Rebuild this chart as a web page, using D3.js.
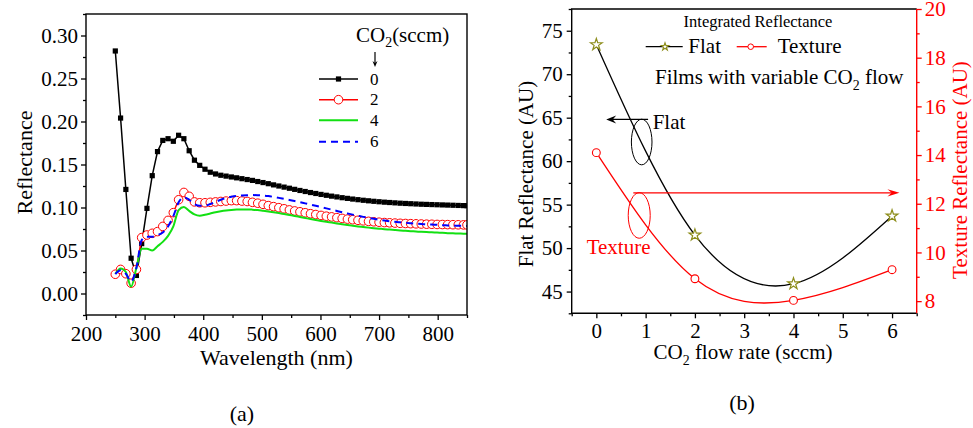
<!DOCTYPE html>
<html>
<head>
<meta charset="utf-8">
<script src="https://cdn.jsdelivr.net/npm/d3@7"></script>
<style>
  body { margin: 0; background: #fff; }
  svg { display: block; }
  svg text { font-family: "Liberation Serif", "Times New Roman", serif !important; }
</style>
</head>
<body>
<svg id="fig" width="973" height="428"></svg>
<script>
// ---------- Panel (a): reflectance spectra ----------
const wavelengths = [250,259,268,277,286,295,304,313,322,331,340,349,358,367,376,385,394,403,412,421,
  430,439,448,457,466,475,484,493,502,511,520,529,538,547,556,565,574,583,592,601,610,619,628,637,646,
  655,664,673,682,691,700,709,718,727,736,745,754,763,772,781,790,799,808,817,826,835,844,850];

const refl0 = [.282,.204,.121,.041,.021,.058,.099,.137,.165,.178,.180,.177,.184,.180,.166,.155,.149,.1445,.141,.139,
  .1375,.1365,.1355,.1345,.1335,.1325,.1315,.1302,.1290,.1277,.1263,.1250,.1237,.1224,.1211,.1198,.1186,.1174,.1163,.1152,.1142,.1132,.1123,.1114,.1106,
  .1098,.1091,.1084,.1078,.1072,.1067,.1062,.1058,.1054,.1050,.1047,.1044,.1041,.1038,.1036,.1034,.1032,.1030,.1028,.1026,.1024,.1022,.1021];

const refl2 = [.0224,.028,.023,.012,.028,.065,.068,.070,.072,.078,.085,.094,.109,.1175,.113,.1065,.1055,.1055,.106,.1065,
  .107,.1075,.108,.108,.1075,.107,.106,.105,.1037,.1022,.101,.0998,.0985,.0972,.096,.095,.0939,.0928,.0918,.0908,.0899,.0891,.0882,.0873,.0865,
  .0858,.0851,.0845,.0839,.0834,.0829,.0825,.0822,.0819,.0816,.0814,.0812,.081,.0808,.0806,.0805,.0803,.0802,.0801,.08,.0799,.0798,.0798];

const refl4 = [.023,.029,.025,.008,.030,.052,.052,.050,.055,.060,.067,.078,.097,.1005,.096,.092,.0905,.0915,.093,.0945,
  .0957,.0966,.0972,.0976,.0978,.0978,.0975,.097,.0962,.0954,.0945,.0935,.0924,.0913,.0902,.089,.0878,.0866,.0855,.0844,.0834,.0825,.0815,.0805,.0796,
  .0788,.078,.0773,.0766,.076,.0754,.0748,.0743,.0738,.0733,.0729,.0725,.0721,.0717,.0714,.0711,.0708,.0705,.0702,.07,.0698,.0696,.0695];

const refl6 = [.0225,.027,.023,.014,.030,.062,.066,.066,.068,.071,.078,.090,.106,.112,.109,.104,.102,.102,.104,.1065,
  .109,.111,.1125,.1135,.114,.1143,.1144,.1143,.114,.1133,.1123,.1112,.11,.1088,.1075,.1062,.1048,.1034,.102,.1005,.099,.0975,.096,.0945,.0931,
  .0917,.0904,.0891,.0879,.0868,.0858,.0849,.0841,.0834,.0828,.0822,.0817,.0812,.0808,.0804,.0801,.0798,.0795,.0792,.079,.0788,.0786,.0785];

const co2Labels = ["0", "2", "4", "6"];
const xTicksA = [200,300,400,500,600,700,800];
const xMinorA = [250,350,450,550,650,750,850];
const yTicksA = [0,0.05,0.10,0.15,0.20,0.25,0.30];
const yMinorA = [-0.025,0.025,0.075,0.125,0.175,0.225,0.275,0.325];

// ---------- Panel (b): integrated reflectance ----------
const flowRates = [0, 2, 4, 6];
const flatRefl = [73.4, 51.5, 45.9, 53.7];
const textureRefl = [14.1, 8.92, 8.03, 9.29];
const xTicksB = [0,1,2,3,4,5,6];
const xMinorB = [-0.5,0.5,1.5,2.5,3.5,4.5,5.5,6.5];
const yTicksBL = [45,50,55,60,65,70,75];
const yMinorBL = [42.5,47.5,52.5,57.5,62.5,67.5,72.5,77.5];
const yTicksBR = [8,10,12,14,16,18,20];
const yMinorBR = [9,11,13,15,17,19];

const RED = "#ff0000", GREEN = "#12e012", BLUE = "#0000ff", OLIVE = "#8e8e1c";
const svg = d3.select("#fig");

// text with a subscript segment: parts = [[text, isSub], ...]
function richText(sel, parts, size) {
  let sub = false;
  parts.forEach(([t, s]) => {
    const ts = sel.append("tspan").text(t);
    if (s && !sub) ts.attr("dy", size * 0.28).attr("font-size", size * 0.66);
    else if (!s && sub) ts.attr("dy", -size * 0.28);
    sub = s;
  });
  return sel;
}

function arrow(g, x1, y1, x2, y2, color, len, half) {
  const dx = Math.sign(x2 - x1), dy = Math.sign(y2 - y1);
  g.append("line").attr("x1", x1).attr("y1", y1).attr("x2", x2 - dx * len * 0.6).attr("y2", y2 - dy * len * 0.6)
    .attr("stroke", color).attr("stroke-width", 1.2);
  const bx = x2 - dx * len, by = y2 - dy * len;
  const nx = x2 - dx * len * 0.65, ny = y2 - dy * len * 0.65;
  const px = dy !== 0 ? half : 0, py = dx !== 0 ? half : 0;
  g.append("path")
    .attr("d", `M${x2},${y2}L${bx + px},${by + py}L${nx},${ny}L${bx - px},${by - py}Z`)
    .attr("fill", color);
}

function styleAxis(g, size, color) {
  g.select(".domain").remove();
  g.attr("font-family", null).attr("font-size", null);
  g.selectAll("line").attr("stroke", color).attr("stroke-width", 1.3);
  g.selectAll("text").attr("font-size", size).attr("fill", color);
}

// ===== Panel (a) =====
(function () {
  const L = 86, T = 14, R = 467, B = 315;
  const x = d3.scaleLinear().domain([200, 850]).range([L, R]);
  const y = d3.scaleLinear().domain([-0.025, 0.325]).range([B, T]);
  const g = svg.append("g");

  g.append("clipPath").attr("id", "clipA").append("rect")
    .attr("x", L).attr("y", T).attr("width", R - L).attr("height", B - T);

  const ax = g.append("g").attr("transform", `translate(0,${B})`)
    .call(d3.axisBottom(x).tickValues(xTicksA).tickSize(5).tickPadding(6).tickFormat(d3.format("d")));
  styleAxis(ax, 21, "#000");
  const axm = g.append("g").attr("transform", `translate(0,${B})`)
    .call(d3.axisBottom(x).tickValues(xMinorA).tickSize(3).tickFormat(""));
  styleAxis(axm, 21, "#000");
  const ay = g.append("g").attr("transform", `translate(${L},0)`)
    .call(d3.axisLeft(y).tickValues(yTicksA).tickSize(5).tickPadding(3).tickFormat(d3.format(".2f")));
  styleAxis(ay, 21, "#000");
  const aym = g.append("g").attr("transform", `translate(${L},0)`)
    .call(d3.axisLeft(y).tickValues(yMinorA).tickSize(3).tickFormat(""));
  styleAxis(aym, 21, "#000");

  const plot = g.append("g").attr("clip-path", "url(#clipA)");
  const line = (vals, curve) => d3.line().x((d, i) => x(wavelengths[i])).y(d => y(d)).curve(curve)(vals);

  // 0 sccm
  plot.append("path").attr("d", line(refl0, d3.curveLinear)).attr("fill", "none")
    .attr("stroke", "#000").attr("stroke-width", 1.5);
  plot.selectAll(".sq").data(refl0).join("rect")
    .attr("x", (d, i) => x(wavelengths[i]) - 2.6).attr("y", d => y(d) - 2.6)
    .attr("width", 5.2).attr("height", 5.2).attr("fill", "#000");
  // 2 sccm
  plot.append("path").attr("d", line(refl2, d3.curveLinear)).attr("fill", "none")
    .attr("stroke", RED).attr("stroke-width", 1.5);
  plot.selectAll(".ci").data(refl2).join("circle")
    .attr("cx", (d, i) => x(wavelengths[i])).attr("cy", d => y(d)).attr("r", 4.3)
    .attr("fill", "#fff").attr("stroke", RED).attr("stroke-width", 1);
  // 4 sccm
  plot.append("path").attr("d", line(refl4, d3.curveMonotoneX)).attr("fill", "none")
    .attr("stroke", GREEN).attr("stroke-width", 2);
  // 6 sccm
  plot.append("path").attr("d", line(refl6, d3.curveMonotoneX)).attr("fill", "none")
    .attr("stroke", BLUE).attr("stroke-width", 2).attr("stroke-dasharray", "7,5");

  // frame
  g.append("rect").attr("x", L).attr("y", T).attr("width", R - L).attr("height", B - T)
    .attr("fill", "none").attr("stroke", "#000").attr("stroke-width", 1.4);

  // legend
  const lg = g.append("g");
  richText(lg.append("text").attr("x", 356).attr("y", 41.5).attr("font-size", 21),
    [["CO", false], ["2", true], ["(sccm)", false]], 21);
  arrow(lg, 375, 52, 375, 67, "#000", 6, 2.5);
  const rows = [79, 99.7, 120.3, 141.7];
  const lx1 = 319, lx2 = 358, lm = 338.5;
  lg.append("line").attr("x1", lx1).attr("x2", lx2).attr("y1", rows[0]).attr("y2", rows[0]).attr("stroke", "#000").attr("stroke-width", 1.5);
  lg.append("rect").attr("x", lm - 2.6).attr("y", rows[0] - 2.6).attr("width", 5.2).attr("height", 5.2);
  lg.append("line").attr("x1", lx1).attr("x2", lx2).attr("y1", rows[1]).attr("y2", rows[1]).attr("stroke", RED).attr("stroke-width", 1.5);
  lg.append("circle").attr("cx", lm).attr("cy", rows[1]).attr("r", 4.3).attr("fill", "#fff").attr("stroke", RED);
  lg.append("line").attr("x1", lx1).attr("x2", lx2).attr("y1", rows[2]).attr("y2", rows[2]).attr("stroke", GREEN).attr("stroke-width", 2);
  lg.append("line").attr("x1", lx1).attr("x2", lx2).attr("y1", rows[3]).attr("y2", rows[3]).attr("stroke", BLUE).attr("stroke-width", 2).attr("stroke-dasharray", "7,5");
  co2Labels.forEach((t, i) => lg.append("text").attr("x", 370).attr("y", rows[i] + 5.5).attr("font-size", 17).text(t));

  // titles
  g.append("text").attr("x", (L + R) / 2).attr("y", 365).attr("text-anchor", "middle").attr("font-size", 22).text("Wavelength (nm)");
  g.append("text").attr("transform", `translate(32,${(T + B) / 2 - 2}) rotate(-90)`).attr("text-anchor", "middle").attr("font-size", 22).text("Reflectance");
  g.append("text").attr("x", 242).attr("y", 421).attr("text-anchor", "middle").attr("font-size", 22).text("(a)");
})();

// ===== Panel (b) =====
(function () {
  const L = 571.7, T = 9, R = 916.7, B = 313.3;
  const x = d3.scaleLinear().domain([-0.5, 6.5]).range([L, R]);
  const yl = d3.scaleLinear().domain([42.5, 77.5]).range([B, T]);
  const yr = d3.scaleLinear().domain([7.5, 20]).range([B, T]);
  const g = svg.append("g");

  // frame (left, top, bottom black; right axis drawn in red)
  g.append("path").attr("d", `M${R},${T}H${L}V${B}H${R}`).attr("fill", "none").attr("stroke", "#000").attr("stroke-width", 1.4);
  g.append("line").attr("x1", R).attr("x2", R).attr("y1", T).attr("y2", B).attr("stroke", RED).attr("stroke-width", 1.4);

  const ax = g.append("g").attr("transform", `translate(0,${B})`)
    .call(d3.axisBottom(x).tickValues(xTicksB).tickSize(5).tickPadding(5).tickFormat(d3.format("d")));
  styleAxis(ax, 21, "#000");
  const axm = g.append("g").attr("transform", `translate(0,${B})`)
    .call(d3.axisBottom(x).tickValues(xMinorB).tickSize(3).tickFormat(""));
  styleAxis(axm, 21, "#000");
  const ayl = g.append("g").attr("transform", `translate(${L},0)`)
    .call(d3.axisLeft(yl).tickValues(yTicksBL).tickSize(5).tickPadding(4).tickFormat(d3.format("d")));
  styleAxis(ayl, 21, "#000");
  const aylm = g.append("g").attr("transform", `translate(${L},0)`)
    .call(d3.axisLeft(yl).tickValues(yMinorBL).tickSize(3).tickFormat(""));
  styleAxis(aylm, 21, "#000");
  const ayr = g.append("g").attr("transform", `translate(${R},0)`)
    .call(d3.axisRight(yr).tickValues(yTicksBR).tickSize(5).tickPadding(3).tickFormat(d3.format("d")));
  styleAxis(ayr, 21, RED);
  const ayrm = g.append("g").attr("transform", `translate(${R},0)`)
    .call(d3.axisRight(yr).tickValues(yMinorBR).tickSize(3).tickFormat(""));
  styleAxis(ayrm, 21, RED);

  // fitted curves
  const flatLine = d3.line().x((d, i) => x(flowRates[i])).y(d => yl(d)).curve(d3.curveNatural);
  const texLine = d3.line().x((d, i) => x(flowRates[i])).y(d => yr(d)).curve(d3.curveNatural);
  g.append("path").attr("d", flatLine(flatRefl)).attr("fill", "none").attr("stroke", "#000").attr("stroke-width", 1.3);
  g.append("path").attr("d", texLine(textureRefl)).attr("fill", "none").attr("stroke", RED).attr("stroke-width", 1.3);

  const star = d3.symbol().type(d3.symbolStar);
  g.selectAll(".st").data(flatRefl).join("path")
    .attr("transform", (d, i) => `translate(${x(flowRates[i])},${yl(d)})`)
    .attr("d", star.size(42)).attr("fill", "#fff").attr("stroke", OLIVE).attr("stroke-width", 1.2);
  g.selectAll(".tc").data(textureRefl).join("circle")
    .attr("cx", (d, i) => x(flowRates[i])).attr("cy", d => yr(d)).attr("r", 3.9)
    .attr("fill", "#fff").attr("stroke", RED).attr("stroke-width", 1.1);

  // legend
  g.append("text").attr("x", 758).attr("y", 27).attr("text-anchor", "middle").attr("font-size", 16.5).text("Integrated Reflectance");
  g.append("line").attr("x1", 645.7).attr("x2", 682.7).attr("y1", 46.7).attr("y2", 46.7).attr("stroke", "#000").attr("stroke-width", 1.3);
  g.append("path").attr("transform", "translate(665,46.7)").attr("d", d3.symbol().type(d3.symbolStar).size(18)())
    .attr("fill", "#fff").attr("stroke", OLIVE).attr("stroke-width", 1.1);
  g.append("text").attr("x", 688.3).attr("y", 53.3).attr("font-size", 21).text("Flat");
  g.append("line").attr("x1", 736.7).attr("x2", 766.7).attr("y1", 46.7).attr("y2", 46.7).attr("stroke", RED).attr("stroke-width", 1.3);
  g.append("circle").attr("cx", 750.7).attr("cy", 46.7).attr("r", 2.8).attr("fill", "#fff").attr("stroke", RED);
  g.append("text").attr("x", 777.7).attr("y", 53.3).attr("font-size", 21).text("Texture");
  richText(g.append("text").attr("x", 655).attr("y", 84).attr("font-size", 21),
    [["Films with variable CO", false], ["2", true], [" flow", false]], 21);

  // annotations
  arrow(g, x(1.05), yl(64.8), x(0.2), yl(64.8), "#000", 10, 4);
  g.append("ellipse").attr("cx", x(0.92)).attr("cy", yl(62.2)).attr("rx", 10.3).attr("ry", 22.8)
    .attr("fill", "none").attr("stroke", "#000").attr("stroke-width", 1);
  g.append("text").attr("x", 652.7).attr("y", 129).attr("font-size", 21).text("Flat");
  arrow(g, x(0.75), yr(12.45), x(6.15), yr(12.45), RED, 12, 3.6);
  g.append("ellipse").attr("cx", x(0.87)).attr("cy", yr(11.52)).attr("rx", 11).attr("ry", 22.8)
    .attr("fill", "none").attr("stroke", RED).attr("stroke-width", 1);
  g.append("text").attr("x", 586.7).attr("y", 254).attr("font-size", 21).attr("fill", RED).text("Texture");

  // titles
  richText(g.append("text").attr("x", 743).attr("y", 359).attr("text-anchor", "middle").attr("font-size", 21),
    [["CO", false], ["2", true], [" flow rate (sccm)", false]], 21);
  g.append("text").attr("transform", `translate(533,174) rotate(-90)`).attr("text-anchor", "middle").attr("font-size", 21).text("Flat Reflectance (AU)");
  g.append("text").attr("transform", `translate(967,170) rotate(-90)`).attr("text-anchor", "middle").attr("font-size", 21).attr("fill", RED).text("Texture Reflectance (AU)");
  g.append("text").attr("x", 742).attr("y", 410).attr("text-anchor", "middle").attr("font-size", 22).text("(b)");
})();
</script>
</body>
</html>
